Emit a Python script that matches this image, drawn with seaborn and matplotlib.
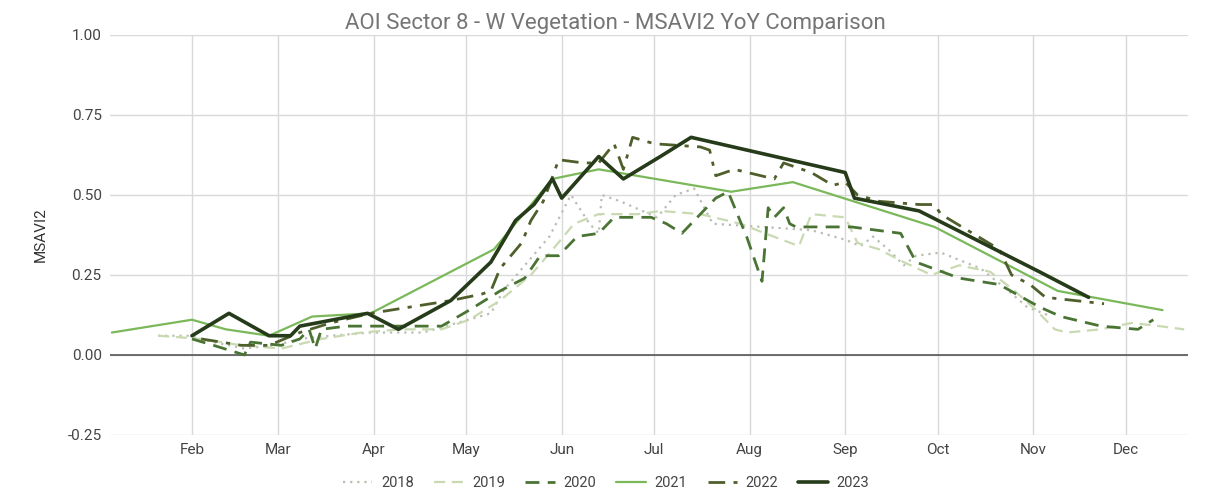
"""MSAVI2 year-over-year comparison for AOI sector 8 (W vegetation)."""

import matplotlib

matplotlib.use("Agg")
import matplotlib.pyplot as plt
import pandas as pd
import seaborn as sns
from matplotlib.ticker import FormatStrFormatter

# day-of-year (x) and MSAVI2 (y)
doy_2018 = [21, 31, 39, 49, 59, 67, 77, 90, 107, 118, 129, 133, 140, 148, 155, 161, 164, 165,
            171, 183, 189, 195, 201, 217, 233, 244, 249, 253, 258, 263, 267, 275, 288, 297,
            303, 311]
val_2018 = [0.06, 0.06, 0.04, 0.02, 0.03, 0.05, 0.06, 0.07, 0.07, 0.10, 0.13, 0.20, 0.28, 0.37,
            0.50, 0.41, 0.38, 0.50, 0.48, 0.43, 0.50, 0.52, 0.41, 0.40, 0.39, 0.36, 0.34, 0.37,
            0.33, 0.28, 0.31, 0.32, 0.27, 0.20, 0.15, 0.12]

doy_2019 = [21, 35, 48, 61, 74, 87, 100, 113, 122, 132, 142, 150, 156, 164, 177, 184, 197, 210,
            218, 229, 233, 244, 248, 255, 263, 272, 281, 291, 299, 306, 312, 316, 327, 337,
            346, 354]
val_2019 = [0.06, 0.05, 0.03, 0.02, 0.05, 0.07, 0.08, 0.08, 0.11, 0.17, 0.25, 0.34, 0.41, 0.44,
            0.44, 0.45, 0.44, 0.41, 0.38, 0.34, 0.44, 0.43, 0.35, 0.33, 0.29, 0.25, 0.28, 0.26,
            0.20, 0.14, 0.08, 0.07, 0.08, 0.10, 0.09, 0.08]

doy_2020 = [32, 39, 49, 51, 61, 67, 70, 72, 74, 82, 100, 113, 122, 132, 140, 145, 151, 157, 164,
            169, 181, 186, 191, 202, 206, 212, 217, 219, 221, 224, 226, 228, 246, 262, 267, 281,
            294, 307, 314, 327, 339, 344]
val_2020 = [0.05, 0.03, 0.00, 0.04, 0.03, 0.05, 0.08, 0.02, 0.08, 0.09, 0.09, 0.09, 0.14, 0.20,
            0.24, 0.31, 0.31, 0.37, 0.38, 0.43, 0.43, 0.41, 0.38, 0.49, 0.51, 0.37, 0.23, 0.46,
            0.43, 0.46, 0.41, 0.40, 0.40, 0.38, 0.29, 0.24, 0.22, 0.15, 0.12, 0.09, 0.08, 0.11]

doy_2021 = [6, 32, 43, 57, 71, 90, 130, 149, 164, 207, 227, 273, 313, 347]
val_2021 = [0.07, 0.11, 0.08, 0.06, 0.12, 0.13, 0.33, 0.55, 0.58, 0.51, 0.54, 0.40, 0.20, 0.14]

doy_2022 = [35, 48, 57, 67, 77, 90, 116, 126, 129, 132, 139, 142, 146, 148, 151, 159, 164, 169,
            172, 175, 182, 197, 200, 202, 208, 221, 224, 233, 240, 244, 248, 255, 268, 273, 275,
            294, 298, 304, 309, 328]
val_2022 = [0.05, 0.03, 0.03, 0.07, 0.10, 0.13, 0.17, 0.19, 0.20, 0.27, 0.35, 0.42, 0.48, 0.53,
            0.61, 0.60, 0.60, 0.66, 0.58, 0.68, 0.66, 0.65, 0.64, 0.56, 0.58, 0.55, 0.60, 0.57,
            0.53, 0.54, 0.50, 0.48, 0.47, 0.47, 0.44, 0.33, 0.25, 0.22, 0.18, 0.16]

doy_2023 = [32, 44, 57, 64, 67, 89, 99, 116, 129, 137, 143, 149, 152, 164, 172, 184, 194, 244,
            247, 268, 307, 323]
val_2023 = [0.06, 0.13, 0.06, 0.06, 0.09, 0.13, 0.08, 0.17, 0.29, 0.42, 0.47, 0.55, 0.49, 0.62,
            0.55, 0.62, 0.68, 0.57, 0.49, 0.45, 0.26, 0.18]

years = ["2018", "2019", "2020", "2021", "2022", "2023"]
month_starts = [32, 60, 91, 121, 152, 182, 213, 244, 274, 305, 335]
month_labels = ["Feb", "Mar", "Apr", "May", "Jun", "Jul", "Aug", "Sep", "Oct", "Nov", "Dec"]
y_ticks = [-0.25, 0.0, 0.25, 0.5, 0.75, 1.0]

series = {
    "2018": (doy_2018, val_2018),
    "2019": (doy_2019, val_2019),
    "2020": (doy_2020, val_2020),
    "2021": (doy_2021, val_2021),
    "2022": (doy_2022, val_2022),
    "2023": (doy_2023, val_2023),
}

# colour, line style, width per year
styles = {
    "2018": ("#b9beb2", (0, (1, 2.2)), 1.6),
    "2019": ("#c9d9b2", (0, (5, 3)), 1.6),
    "2020": ("#4a7434", (0, (5, 3)), 2.0),
    "2021": ("#7ab85a", "-", 1.6),
    "2022": ("#4f5f2c", (0, (6, 3, 1.5, 3)), 2.0),
    "2023": ("#263b19", "-", 2.6),
}

sns.set_theme(style="white")
plt.rcParams["font.family"] = ["Roboto", "DejaVu Sans"]

fig, ax = plt.subplots(figsize=(12.09, 4.92), dpi=100)
fig.subplots_adjust(left=0.091, right=0.983, top=0.929, bottom=0.116)

for year in years:
    x, y = series[year]
    color, ls, lw = styles[year]
    df = pd.DataFrame({"doy": x, "msavi2": y})
    sns.lineplot(data=df, x="doy", y="msavi2", color=color, linestyle=ls,
                 linewidth=lw, label=year, ax=ax, zorder=3)

ax.set_xlim(5.4, 355.4)
ax.set_ylim(-0.25, 1.0)
ax.set_xticks(month_starts)
ax.set_xticklabels(month_labels)
ax.set_yticks(y_ticks)
ax.yaxis.set_major_formatter(FormatStrFormatter("%.2f"))

ax.grid(True, color="#d9d9d9", linewidth=1.0, zorder=0)
ax.axhline(0, color="#555555", linewidth=1.2, zorder=2)
for side in ax.spines.values():
    side.set_visible(False)
ax.tick_params(axis="both", length=0, labelsize=11, colors="#444444", pad=6)

ax.set_xlabel("")
ax.set_ylabel("MSAVI2", fontsize=11, color="#333333", labelpad=14)
# title is centred on the figure rather than the plot area
ax.set_title("AOI Sector 8 - W Vegetation - MSAVI2 YoY Comparison",
             fontsize=16, color="#757575", pad=4, x=0.469)

ax.legend(loc="upper center", bbox_to_anchor=(0.46, -0.07), ncol=6, frameon=False,
          fontsize=10.5, handlelength=2.0, columnspacing=1.4, handletextpad=0.6,
          labelcolor="#444444")

fig.savefig("out.png", dpi=100, facecolor="white")
